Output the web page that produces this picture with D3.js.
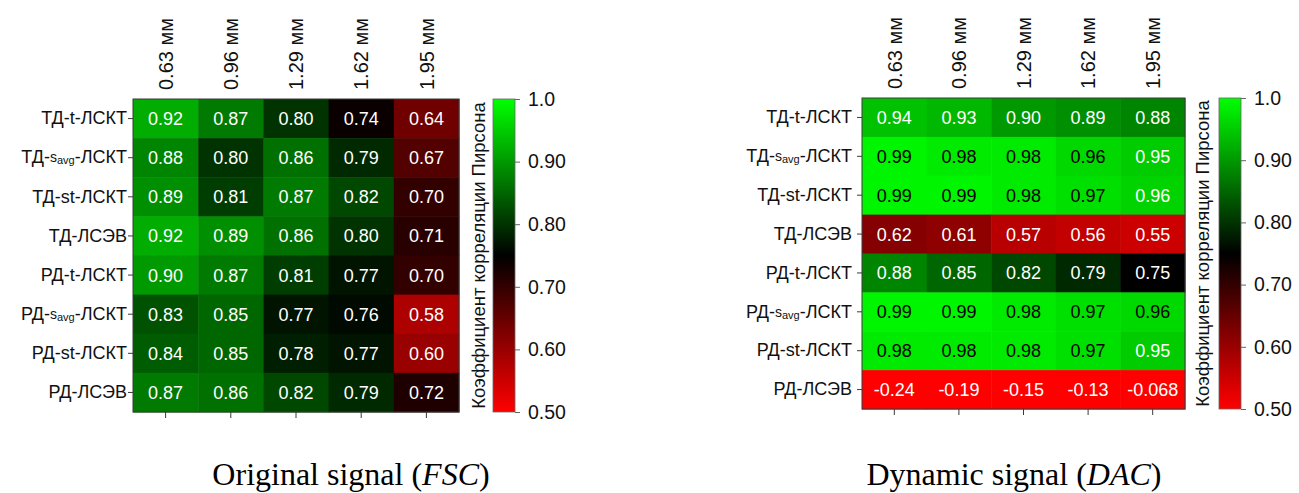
<!DOCTYPE html>
<html>
<head>
<meta charset="utf-8">
<script src="https://cdn.jsdelivr.net/npm/d3@7"></script>
<style>
	body { margin: 0; background: #fff; }
	text { font-family: "Liberation Sans", Arial, sans-serif; }
	.caption { font-family: "Liberation Serif", "Times New Roman", serif; }
</style>
</head>
<body>
<svg id="chart" width="1299" height="493"></svg>
<script>
// rows and columns of both heatmaps
const rowLabels = ["ТД-t-ЛСКТ", "ТД-s_avg-ЛСКТ", "ТД-st-ЛСКТ", "ТД-ЛСЭВ",
	"РД-t-ЛСКТ", "РД-s_avg-ЛСКТ", "РД-st-ЛСКТ", "РД-ЛСЭВ"];
const colLabels = ["0.63 мм", "0.96 мм", "1.29 мм", "1.62 мм", "1.95 мм"];

// Pearson correlation, original signal (FSC)
const fscValues = [
	[0.92, 0.87, 0.80, 0.74, 0.64],
	[0.88, 0.80, 0.86, 0.79, 0.67],
	[0.89, 0.81, 0.87, 0.82, 0.70],
	[0.92, 0.89, 0.86, 0.80, 0.71],
	[0.90, 0.87, 0.81, 0.77, 0.70],
	[0.83, 0.85, 0.77, 0.76, 0.58],
	[0.84, 0.85, 0.78, 0.77, 0.60],
	[0.87, 0.86, 0.82, 0.79, 0.72]
];

// Pearson correlation, dynamic signal (DAC)
const dacValues = [
	[0.94, 0.93, 0.90, 0.89, 0.88],
	[0.99, 0.98, 0.98, 0.962, 0.95],
	[0.99, 0.99, 0.98, 0.97, 0.957],
	[0.62, 0.61, 0.57, 0.56, 0.55],
	[0.88, 0.85, 0.82, 0.79, 0.75],
	[0.99, 0.99, 0.98, 0.97, 0.963],
	[0.98, 0.98, 0.98, 0.97, 0.95],
	[-0.24, -0.19, -0.15, -0.13, -0.068]
];

const colorTicks = [1.0, 0.9, 0.8, 0.7, 0.6, 0.5];
const colorTitle = "Коэффициент корреляции Пирсона";

// red -> black -> green, clamped
let color = d3.scaleLinear()
	.domain([0.5, 0.75, 1.0])
	.range(["#ff0000", "#000000", "#00ff00"])
	.clamp(true);
// plain hyphen as minus sign, like the source
let fmt = d3.formatLocale({decimal: ".", thousands: ",", grouping: [3], currency: ["", ""], minus: "-"}).format(".2r");

let svg = d3.select("#chart");

// gradient for the colour bars
let grad = svg.append("defs").append("linearGradient")
	.attr("id", "cbar")
	.attr("x1", 0).attr("y1", 1).attr("x2", 0).attr("y2", 0);
d3.range(0, 1.0001, 0.05).forEach(t => {
	grad.append("stop")
		.attr("offset", t)
		.attr("stop-color", color(0.5 + t * 0.5));
});

function heatmap(values, opt){
	let g = svg.append("g");
	let x = d3.scaleBand().domain(colLabels).range([opt.left, opt.right]);
	let y = d3.scaleBand().domain(rowLabels).range([opt.top, opt.bottom]);

	let cells = [];
	values.forEach((row, i) => row.forEach((v, j) => cells.push({r: rowLabels[i], c: colLabels[j], v: v})));

	g.selectAll("rect.cell")
		.data(cells)
		.join("rect")
		.attr("class", "cell")
		.attr("x", d => x(d.c))
		.attr("y", d => y(d.r))
		.attr("width", x.bandwidth() + 0.5)
		.attr("height", y.bandwidth() + 0.5)
		.attr("fill", d => color(d.v));

	g.selectAll("text.val")
		.data(cells)
		.join("text")
		.attr("class", "val")
		.attr("x", d => x(d.c) + x.bandwidth() / 2)
		.attr("y", d => y(d.r) + y.bandwidth() / 2)
		.attr("dy", "0.36em")
		.attr("text-anchor", "middle")
		.style("font-size", "18px")
		.attr("fill", d => d.v >= 0.96 ? "#000" : "#fff")
		.text(d => fmt(d.v));

	// border
	g.append("rect")
		.attr("x", opt.left).attr("y", opt.top)
		.attr("width", opt.right - opt.left)
		.attr("height", opt.bottom - opt.top)
		.attr("fill", "none")
		.attr("stroke", "#3a3a3a");

	// row labels
	let yAxis = g.append("g")
		.attr("transform", `translate(${opt.left},0)`)
		.call(d3.axisLeft(y).tickSize(5).tickPadding(opt.labelPad));
	yAxis.select(".domain").remove();
	yAxis.selectAll(".tick line").attr("stroke", "#3a3a3a");
	yAxis.selectAll(".tick text")
		.style("font-size", "18px")
		.attr("fill", "#111")
		.each(function(d){
			let t = d3.select(this).text("");
			let parts = d.split("s_avg");
			t.append("tspan").text(parts[0]);
			if (parts.length > 1){
				t.append("tspan").style("font-size", "14px").attr("dy", -1).text("s");
				t.append("tspan").style("font-size", "11px").attr("dy", 2).text("avg");
				t.append("tspan").attr("dy", -1).text(parts[1]);
			}
		});

	// column labels, rotated
	let xTop = g.append("g")
		.attr("transform", `translate(0,${opt.top})`)
		.call(d3.axisTop(x).tickSize(0));
	xTop.select(".domain").remove();
	xTop.selectAll(".tick text")
		.attr("transform", "rotate(-90)")
		.attr("x", 9).attr("y", 0)
		.attr("dy", "0.36em")
		.style("text-anchor", "start")
		.style("font-size", "20px")
		.attr("fill", "#111");

	// bottom ticks without labels
	let xBot = g.append("g")
		.attr("transform", `translate(0,${opt.bottom})`)
		.call(d3.axisBottom(x).tickSize(6).tickFormat(""));
	xBot.select(".domain").remove();
	xBot.selectAll(".tick line").attr("stroke", "#3a3a3a");

	// colour bar
	let cy = d3.scaleLinear().domain([0.5, 1.0]).range([opt.bottom, opt.top]);
	g.append("rect")
		.attr("x", opt.cbLeft).attr("y", opt.top)
		.attr("width", opt.cbWidth)
		.attr("height", opt.bottom - opt.top)
		.attr("fill", "url(#cbar)")
		.attr("stroke", "#666")
		.attr("stroke-width", 0.8);
	let cAxis = g.append("g")
		.attr("transform", `translate(${opt.cbLeft + opt.cbWidth},0)`)
		.call(d3.axisRight(cy).tickValues(colorTicks).tickFormat(fmt).tickSize(5).tickPadding(8));
	cAxis.select(".domain").remove();
	cAxis.selectAll(".tick line").attr("stroke", "#666");
	cAxis.selectAll(".tick text")
		.style("font-size", "19.5px")
		.attr("fill", "#111");

	g.append("text")
		.attr("transform", `translate(${opt.titleX},${(opt.top + opt.bottom) / 2}) rotate(-90)`)
		.attr("text-anchor", "middle")
		.style("font-size", "18.5px")
		.attr("fill", "#111")
		.text(colorTitle);

	g.append("text")
		.attr("class", "caption")
		.attr("x", opt.capX).attr("y", 485)
		.attr("text-anchor", "middle")
		.style("font-size", "32px")
		.attr("fill", "#000")
		.call(t => {
			t.append("tspan").text(opt.caption[0]);
			t.append("tspan").style("font-style", "italic").text(opt.caption[1]);
			t.append("tspan").text(opt.caption[2]);
		});
}

heatmap(fscValues, {
	left: 133, right: 459, top: 99, bottom: 412, labelPad: 1,
	cbLeft: 493, cbWidth: 22, titleX: 485,
	capX: 351, caption: ["Original signal (", "FSC", ")"]
});

heatmap(dacValues, {
	left: 862, right: 1185, top: 98, bottom: 409, labelPad: 5,
	cbLeft: 1219, cbWidth: 22, titleX: 1209,
	capX: 1014, caption: ["Dynamic signal (", "DAC", ")"]
});
</script>
</body>
</html>
